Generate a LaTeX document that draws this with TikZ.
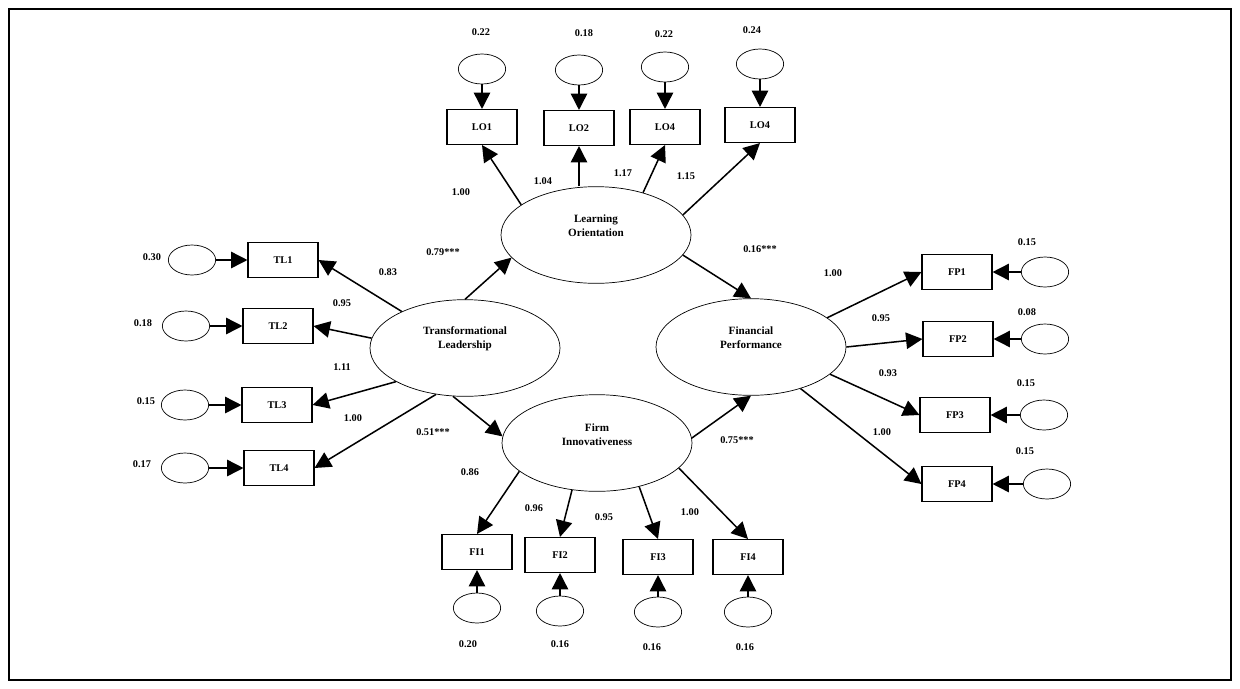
\documentclass[tikz,border=0pt]{standalone}
\usepackage{fontspec}
\setmainfont{Liberation Serif}
\usetikzlibrary{shapes.geometric,arrows.meta}

\begin{document}
\begin{tikzpicture}[
  x=0.3mm, y=-0.3mm,
  every node/.style={font=\fontsize{8.8}{10}\selectfont\bfseries},
  latent/.style={draw, ellipse, line width=0.6pt, minimum width=5.7cm,
                 minimum height=2.9cm, inner sep=0pt},
  lattext/.style={align=center, font=\fontsize{9.5}{12}\selectfont\bfseries},
  obs/.style={draw, line width=0.9pt, minimum width=2.1cm, minimum height=1.05cm},
  err/.style={draw, ellipse, line width=0.6pt, minimum width=1.42cm,
              minimum height=0.9cm},
  arr/.style={-{Triangle[length=14pt,width=14pt]}, line width=1.3pt},
  lbl/.style={inner sep=1pt}
]
\useasboundingbox (0,0) rectangle (1240,688);
\draw[line width=2pt] (9,9) rectangle (1231,680);

% Latent variables
\node[latent, label={[lattext, yshift=8pt]center:Learning\\Orientation}] (lo) at (596,235) {};
\node[latent, label={[lattext, yshift=8pt]center:Transformational\\Leadership}] (tl) at (465,348) {};
\node[latent, label={[lattext, yshift=8pt]center:Financial\\Performance}] (fp) at (751,347) {};
\node[latent, label={[lattext, yshift=7pt]center:Firm\\Innovativeness}] (fi) at (597,443) {};

% Learning orientation items
\node[obs] (lo1) at (482,127) {LO1};
\node[obs] (lo2) at (579,128) {LO2};
\node[obs] (lo3) at (665,127) {LO4};
\node[obs] (lo4) at (760,125) {LO4};
\node[err] (e-lo1) at (482,69) {};
\node[err] (e-lo2) at (579,70) {};
\node[err] (e-lo3) at (665,67) {};
\node[err] (e-lo4) at (760,64) {};
\node[lbl] (v-lo1) at (481,32) {0.22};
\node[lbl] (v-lo2) at (584,33) {0.18};
\node[lbl] (v-lo3) at (664,34) {0.22};
\node[lbl] (v-lo4) at (752,30) {0.24};

% Transformational leadership items
\node[obs] (tl1) at (283,260) {TL1};
\node[obs] (tl2) at (278,326) {TL2};
\node[obs] (tl3) at (277,405) {TL3};
\node[obs] (tl4) at (279,468) {TL4};
\node[err] (e-tl1) at (192,260) {};
\node[err] (e-tl2) at (186,326) {};
\node[err] (e-tl3) at (185,405) {};
\node[err] (e-tl4) at (185,468) {};
\node[lbl] (v-tl1) at (152,257) {0.30};
\node[lbl] (v-tl2) at (143,323) {0.18};
\node[lbl] (v-tl3) at (146,401) {0.15};
\node[lbl] (v-tl4) at (142,464) {0.17};

% Financial performance items
\node[obs] (fp1) at (957,272) {FP1};
\node[obs] (fp2) at (958,339) {FP2};
\node[obs] (fp3) at (955,415) {FP3};
\node[obs] (fp4) at (957,484) {FP4};
\node[err] (e-fp1) at (1045,272) {};
\node[err] (e-fp2) at (1045,339) {};
\node[err] (e-fp3) at (1044,415) {};
\node[err] (e-fp4) at (1047,484) {};
\node[lbl] (v-fp1) at (1027,242) {0.15};
\node[lbl] (v-fp2) at (1027,312) {0.08};
\node[lbl] (v-fp3) at (1026,383) {0.15};
\node[lbl] (v-fp4) at (1025,451) {0.15};

% Firm innovativeness items
\node[obs] (fi1) at (477,552) {FI1};
\node[obs] (fi2) at (560,555) {FI2};
\node[obs] (fi3) at (658,557) {FI3};
\node[obs] (fi4) at (748,557) {FI4};
\node[err] (e-fi1) at (477,608) {};
\node[err] (e-fi2) at (560,611) {};
\node[err] (e-fi3) at (658,612) {};
\node[err] (e-fi4) at (748,612) {};
\node[lbl] (v-fi1) at (468,644) {0.20};
\node[lbl] (v-fi2) at (560,644) {0.16};
\node[lbl] (v-fi3) at (652,647) {0.16};
\node[lbl] (v-fi4) at (745,647) {0.16};

% Loadings
\node[lbl] (w-lo1) at (461,192) {1.00};
\node[lbl] (w-lo2) at (543,181) {1.04};
\node[lbl] (w-lo3) at (623,173) {1.17};
\node[lbl] (w-lo4) at (686,176) {1.15};
\node[lbl] (w-tl1) at (388,272) {0.83};
\node[lbl] (w-tl2) at (342,303) {0.95};
\node[lbl] (w-tl3) at (342,367) {1.11};
\node[lbl] (w-tl4) at (353,418) {1.00};
\node[lbl] (w-fp1) at (833,273) {1.00};
\node[lbl] (w-fp2) at (881,318) {0.95};
\node[lbl] (w-fp3) at (888,373) {0.93};
\node[lbl] (w-fp4) at (882,432) {1.00};
\node[lbl] (w-fi1) at (470,472) {0.86};
\node[lbl] (w-fi2) at (534,508) {0.96};
\node[lbl] (w-fi3) at (604,517) {0.95};
\node[lbl] (w-fi4) at (690,512) {1.00};

% Structural paths
\node[lbl] (b-tllo) at (443,252) {0.79***};
\node[lbl] (b-tlfi) at (433,432) {0.51***};
\node[lbl] (b-lofp) at (760,249) {0.16***};
\node[lbl] (b-fifp) at (737,440) {0.75***};

\draw[arr] (tl.north) -- (lo.195);
\draw[arr] (tl.256) -- (fi.176);
\draw[arr] (lo.-13) -- (fp.north);
\draw[arr] (fi.3) -- (fp.south);

\draw[arr] (lo.158) -- (lo1.south);
\draw[arr] (lo2.south |- lo.north) -- (lo2.south);
\draw[arr] (lo.42) -- (lo3.south);
\draw[arr] (lo.13) -- (lo4.south);

\draw[arr] (tl.150) -- (tl1.east);
\draw[arr] (tl.174) -- (tl2.east);
\draw[arr] (tl.206) -- (tl3.east);
\draw[arr] (tl.238) -- (tl4.east);

\draw[arr] (fp.21) -- (fp1.west);
\draw[arr] (fp.east) -- (fp2.west);
\draw[arr] (fp.-19) -- (fp3.west);
\draw[arr] (fp.-40) -- (fp4.west);

\draw[arr] (fi.200) -- (fi1.north);
\draw[arr] (fi.242) -- (fi2.north);
\draw[arr] (fi.314) -- (fi3.north);
\draw[arr] (fi.343) -- (fi4.north);

% Error terms
\draw[arr] (e-lo1) -- (lo1);
\draw[arr] (e-lo2) -- (lo2);
\draw[arr] (e-lo3) -- (lo3);
\draw[arr] (e-lo4) -- (lo4);
\draw[arr] (e-tl1) -- (tl1);
\draw[arr] (e-tl2) -- (tl2);
\draw[arr] (e-tl3) -- (tl3);
\draw[arr] (e-tl4) -- (tl4);
\draw[arr] (e-fp1) -- (fp1);
\draw[arr] (e-fp2) -- (fp2);
\draw[arr] (e-fp3) -- (fp3);
\draw[arr] (e-fp4) -- (fp4);
\draw[arr] (e-fi1) -- (fi1);
\draw[arr] (e-fi2) -- (fi2);
\draw[arr] (e-fi3) -- (fi3);
\draw[arr] (e-fi4) -- (fi4);
\end{tikzpicture}
\end{document}
